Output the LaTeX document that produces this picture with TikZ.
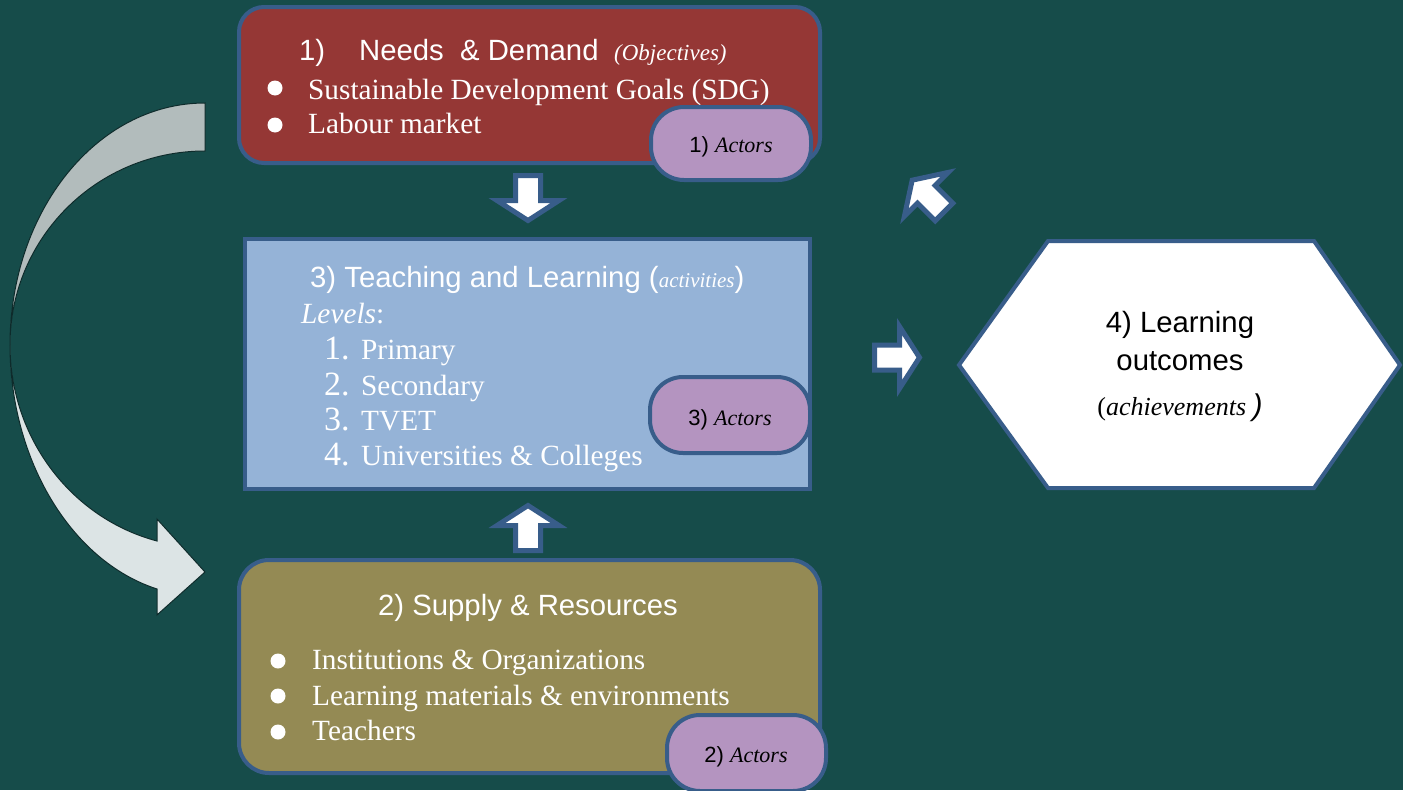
\documentclass[tikz,border=0pt]{standalone}
\usepackage{fontspec}
\setmainfont{Liberation Serif}
\setsansfont{Liberation Sans}
\definecolor{bg}{RGB}{22,76,74}
\definecolor{needred}{RGB}{149,55,53}
\definecolor{teachblue}{RGB}{149,179,215}
\definecolor{supplyolive}{RGB}{148,138,84}
\definecolor{pillpurple}{RGB}{180,148,192}
\definecolor{bordblue}{RGB}{56,93,138}
\definecolor{curvetop}{RGB}{178,188,188}
\definecolor{curvebot}{RGB}{220,228,229}
\definecolor{curveline}{RGB}{14,43,43}
\newcommand{\fsz}[1]{\fontsize{#1}{#1}\selectfont}
\begin{document}
\begin{tikzpicture}[x=1pt,y=-1pt,
  box/.style={draw=bordblue, line width=4pt, inner sep=0pt},
  pill/.style={draw=bordblue, line width=4pt, fill=pillpurple, rounded corners=33pt, inner sep=0pt},
  wtxt/.style={text=white, inner sep=0pt, anchor=base west},
  ktxt/.style={text=black, inner sep=0pt, anchor=base},
  bullet/.style={circle, fill=white, inner sep=0pt, minimum size=15pt},
  blockarrow/.pic={\draw[fill=white, draw=bordblue, line width=5pt, line join=miter]
     (0,-12.5) -- (25,-12.5) -- (25,-31) -- (45,0) -- (25,31) -- (25,12.5) -- (0,12.5) -- cycle;}
]
\fill[bg] (0,0) rectangle (1403,790);
\useasboundingbox (0,0) rectangle (1403,790);

% big curved arrow
\filldraw[fill=curvetop, draw=curveline, line width=1pt]
  (205,103) .. controls (97,103) and (10,211) .. (10,345)
  .. controls (10,238) and (97,151) .. (205,151) -- cycle;
\filldraw[fill=curvebot, draw=curveline, line width=1pt]
  (10,345) .. controls (10,437) and (70.5,518) .. (157,541)
  -- (157,519) -- (205,572) -- (157,615) -- (157,589)
  .. controls (70.5,561) and (10,459) .. (10,345) -- cycle;

% boxes
\node[box, fill=needred, rounded corners=25pt, minimum width=581pt, minimum height=156pt] (needs) at (529.5,85) {};
\node[box, fill=teachblue, minimum width=565pt, minimum height=250pt] (teach) at (527.5,364) {};
\node[box, fill=supplyolive, rounded corners=30pt, minimum width=581pt, minimum height=213pt] (supply) at (529.5,666.5) {};

% needs text
\node[wtxt] (n1num) at (299,60) {\sffamily\fsz{29.3}1)};
\node[wtxt] (n1title) at (359,60) {\sffamily\fsz{29.3}Needs\ \ \& Demand};
\node[wtxt] (n1obj) at (614,60) {\rmfamily\itshape\fsz{23}(Objectives)};
\node[bullet] (nb1) at (275,88) {};
\node[bullet] (nb2) at (275,125) {};
\node[wtxt] (nt1) at (308,99) {\rmfamily\fsz{29.3}Sustainable Development Goals (SDG)};
\node[wtxt] (nt2) at (308,133) {\rmfamily\fsz{29.3}Labour market};

% teach text
\node[wtxt] (t3title) at (310,287) {\sffamily\fsz{29.3}3) Teaching and Learning ({\rmfamily\itshape\fsz{21}activities})};
\node[wtxt] (tlev) at (301,323) {\rmfamily\fsz{29.3}\textit{Levels}:};
\node[wtxt] (tn1) at (324,359) {\rmfamily\fsz{34}1.};
\node[wtxt] (tn2) at (324,395) {\rmfamily\fsz{34}2.};
\node[wtxt] (tn3) at (324,430) {\rmfamily\fsz{34}3.};
\node[wtxt] (tn4) at (324,465) {\rmfamily\fsz{34}4.};
\node[wtxt] (tl1) at (361,359) {\rmfamily\fsz{29.3}Primary};
\node[wtxt] (tl2) at (361,395) {\rmfamily\fsz{29.3}Secondary};
\node[wtxt] (tl3) at (361,430) {\rmfamily\fsz{29.3}TVET};
\node[wtxt] (tl4) at (361,465) {\rmfamily\fsz{29.3}Universities \& Colleges};

% supply text
\node[wtxt] (s2title) at (378,615) {\sffamily\fsz{29.3}2) Supply \& Resources};
\node[bullet] (sb1) at (278,661) {};
\node[bullet] (sb2) at (278,696) {};
\node[bullet] (sb3) at (278,732) {};
\node[wtxt] (st1) at (312,669) {\rmfamily\fsz{29.3}Institutions \& Organizations};
\node[wtxt] (st2) at (312,705) {\rmfamily\fsz{29.3}Learning materials \& environments};
\node[wtxt] (st3) at (312,740) {\rmfamily\fsz{29.3}Teachers};

% actors pills
\node[pill, minimum width=160pt, minimum height=73pt] (act1) at (731,143.5) {};
\node[ktxt] (act1t) at (731,152) {\sffamily\fsz{22}1) {\rmfamily\itshape Actors}};
\node[pill, minimum width=160pt, minimum height=76pt] (act3) at (730,415) {};
\node[ktxt] (act3t) at (730,425) {\sffamily\fsz{22}3) {\rmfamily\itshape Actors}};
\node[pill, minimum width=159pt, minimum height=76pt] (act2) at (746.5,753) {};
\node[ktxt] (act2t) at (746,762) {\sffamily\fsz{22}2) {\rmfamily\itshape Actors}};

% hexagon
\coordinate (hL) at (959,365);
\coordinate (hTL) at (1048,241);
\coordinate (hTR) at (1314,241);
\coordinate (hR) at (1400,365);
\coordinate (hBR) at (1314,488);
\coordinate (hBL) at (1048,488);
\filldraw[fill=white, draw=bordblue, line width=4pt, line join=miter] (hL) -- (hTL) -- (hTR) -- (hR) -- (hBR) -- (hBL) -- cycle;
\node[ktxt] (h1) at (1180,332) {\sffamily\fsz{29.3}4) Learning};
\node[ktxt] (h2) at (1180,370) {\sffamily\fsz{29.3}outcomes};
\node[ktxt] (h3) at (1180,415) {\rmfamily\fsz{26}(\textit{achievements} {\sffamily\itshape\fsz{30})}};

% block arrows
\pic[rotate=-90] at (528,175.5) {blockarrow};
\pic[rotate=90] at (528,550.5) {blockarrow};
\pic at (874.5,357.5) {blockarrow};
\pic[rotate=135] at (944,212) {blockarrow};
\end{tikzpicture}
\end{document}
